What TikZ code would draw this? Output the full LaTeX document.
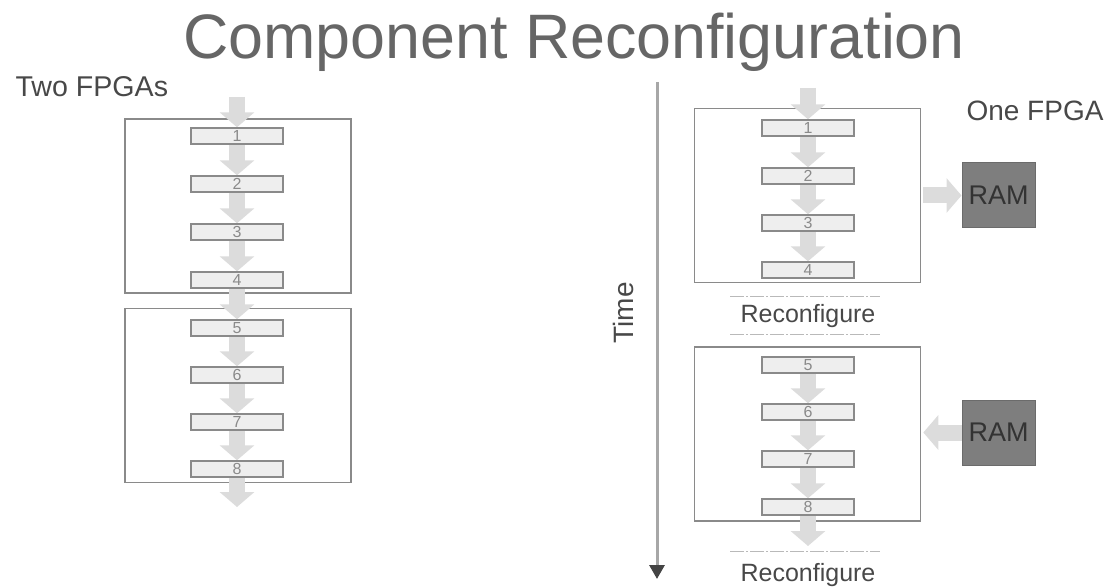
\documentclass[tikz,border=0pt]{standalone}
\usepackage{fontspec}
\setmainfont{Liberation Sans}
\usepackage{tikz}
\usetikzlibrary{arrows.meta,calc,positioning}
\pgfdeclarelayer{boxlayer}
\pgfdeclarelayer{edgelayer}
\pgfsetlayers{boxlayer,edgelayer,main}
\definecolor{boxgray}{HTML}{8A8A8A}
\definecolor{flowgray}{HTML}{DCDCDC}
\definecolor{blockfill}{HTML}{EEEEEE}
\definecolor{ramfill}{HTML}{7E7E7E}
\definecolor{txtgray}{HTML}{555555}
\tikzset{
  fpga/.style={draw=boxgray,line width=1.6pt,minimum width=226pt,minimum height=174pt,inner sep=0pt},
  stage/.style={draw=boxgray,fill=blockfill,line width=1.4pt,minimum width=92pt,minimum height=16pt,inner sep=0pt,
    font=\fontsize{16}{16}\selectfont,text=boxgray},
  flow/.style={draw=flowgray,line width=16pt,-{Triangle[width=34pt,length=15pt]}},
  ram/.style={draw=ramfill!85!black,fill=ramfill,line width=1pt,minimum width=73pt,minimum height=65pt,inner sep=0pt,
    font=\fontsize{27}{27}\selectfont,text=txtgray!60!black},
  cfgline/.style={draw=boxgray!60,line width=0.9pt,dash pattern=on 14pt off 2pt on 2pt off 2pt},
  cfgtext/.style={font=\fontsize{25}{25}\selectfont,text=txtgray!85!black}
}
\begin{document}
\begin{tikzpicture}[x=1pt,y=-1pt]
\useasboundingbox (0,0) rectangle (1111,588);
\node[anchor=base,font=\fontsize{62.8}{62.8}\selectfont,text=txtgray!90] (title) at (574,59) {Component Reconfiguration};
\node[anchor=base west,font=\fontsize{28.6}{28.6}\selectfont,text=txtgray!85!black] (two) at (12,97) {Two FPGAs};
\node[anchor=base west,font=\fontsize{28}{28}\selectfont,text=txtgray!85!black] (one) at (963,121) {One FPGA};

% two chips, left
\begin{pgfonlayer}{boxlayer}
\node[fpga] (L1) at (238,206) {};
\node[fpga] (L2) at (238,395.5) {};
\node[fpga] (R1) at (807.5,195.5) {};
\node[fpga] (R2) at (807.5,434) {};
\end{pgfonlayer}
\node[stage] (l1) at (237,136) {1};
\node[stage] (l2) at (237,184) {2};
\node[stage] (l3) at (237,232) {3};
\node[stage] (l4) at (237,280) {4};
\node[stage] (l5) at (237,328) {5};
\node[stage] (l6) at (237,375) {6};
\node[stage] (l7) at (237,422) {7};
\node[stage] (l8) at (237,469) {8};
\coordinate (lin) at (237,97);
\coordinate (lout) at (237,507);

% one chip, right
\node[stage] (r1) at (808,128) {1};
\node[stage] (r2) at (808,176) {2};
\node[stage] (r3) at (808,223) {3};
\node[stage] (r4) at (808,270) {4};
\node[stage] (r5) at (808,365) {5};
\node[stage] (r6) at (808,412) {6};
\node[stage] (r7) at (808,459) {7};
\node[stage] (r8) at (808,507) {8};
\coordinate (rin) at (808,88);
\coordinate (rout) at (808,546);
\node[ram] (ram1) at (998.5,195.5) {RAM};
\node[ram] (ram2) at (998.5,432.5) {RAM};

\begin{pgfonlayer}{edgelayer}
\draw[flow] (lin) -- (l1.north);
\draw[flow] (l1) -- (l2.north);
\draw[flow] (l2) -- (l3.north);
\draw[flow] (l3) -- (l4.north);
\draw[flow] (l4) -- (l5.north);
\draw[flow] (l5) -- (l6.north);
\draw[flow] (l6) -- (l7.north);
\draw[flow] (l7) -- (l8.north);
\draw[flow] (l8) -- (lout);
\draw[flow] (rin) -- (r1.north);
\draw[flow] (r1) -- (r2.north);
\draw[flow] (r2) -- (r3.north);
\draw[flow] (r3) -- (r4.north);
\draw[flow] (r5) -- (r6.north);
\draw[flow] (r6) -- (r7.north);
\draw[flow] (r7) -- (r8.north);
\draw[flow] (r8) -- (rout);
\draw[flow] ($(R1.east)+(2,0)$) -- (ram1.west);
\draw[flow] (ram2.west) -- ($(ram2.west -| R2.east)+(2,0)$);
\end{pgfonlayer}

% reconfiguration steps
\node[cfgtext] (cfg1) at (808,316) {Reconfigure};
\node[cfgtext] (cfg2) at (808,575) {Reconfigure};
\draw[cfgline] (730,296) -- (880,296);
\draw[cfgline] (730,334) -- (880,334);
\draw[cfgline] (730,551) -- (880,551);
\draw[cfgline] (730,588) -- (880,588);

% time axis
\coordinate (t0) at (657,82);
\coordinate (t1) at (657,579);
\draw[boxgray!75,line width=3pt,-{Triangle[width=15pt,length=14pt,color=txtgray!80!black]}] (t0) -- (t1);
\node[rotate=90,font=\fontsize{28}{28}\selectfont,text=txtgray!85!black] (time) at (623,313) {Time};
\end{tikzpicture}
\end{document}
